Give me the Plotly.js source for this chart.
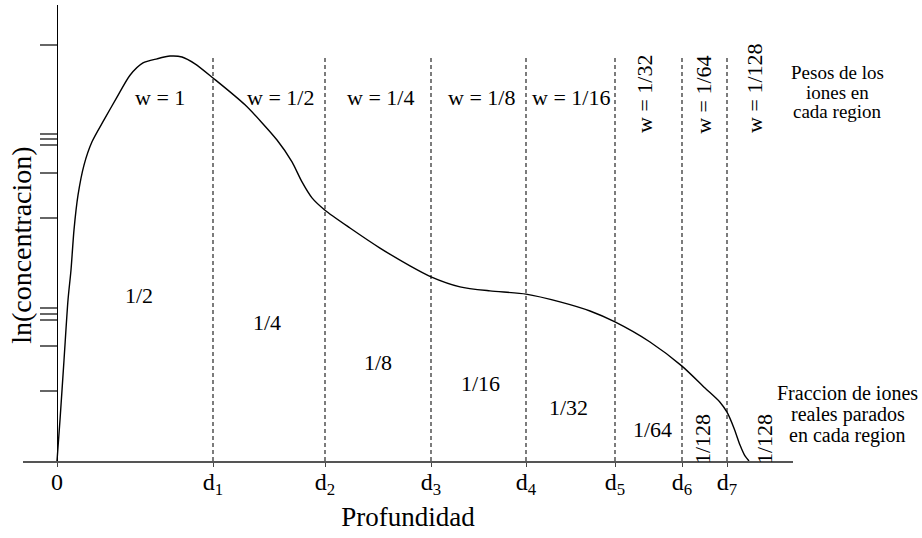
<!DOCTYPE html>
<html>
<head>
<meta charset="utf-8">
<script src="https://cdn.plot.ly/plotly-3.0.1.min.js"></script>
<style>html,body{margin:0;padding:0;background:#fff;}#chart{width:922px;height:538px;}</style>
</head>
<body>
<div id="chart"></div>
<script>
// Depth profile (depth units) and ln(concentration) values
const depth = [0, 0.03, 0.07, 0.11, 0.14, 0.17, 0.21, 0.27, 0.35, 0.47, 0.60, 0.73, 0.86, 1.00, 1.13, 1.25, 1.38, 1.56, 1.88, 2.20, 2.35, 2.45, 2.55, 2.68, 2.93, 3.23, 3.53, 3.74, 4.03, 4.33, 4.69, 5.03, 5.33, 5.58, 5.93, 6.25, 6.48, 6.63, 6.70, 6.77, 6.83, 6.88, 6.92];
const lnConc = [0, 0.90, 2.21, 3.53, 4.19, 5.07, 5.83, 6.49, 7.00, 7.48, 7.98, 8.46, 8.73, 8.82, 8.88, 8.86, 8.71, 8.40, 7.81, 7.04, 6.56, 6.12, 5.77, 5.50, 5.11, 4.67, 4.28, 4.04, 3.82, 3.73, 3.66, 3.49, 3.29, 3.05, 2.61, 2.08, 1.60, 1.29, 1.07, 0.72, 0.35, 0.11, 0];

// Region boundaries d1..d7
const regionBounds = [1.56, 2.68, 3.74, 4.69, 5.58, 6.25, 6.70];
const boundaryTop = 8.88;
const xTickVals = [0, 1.56, 2.68, 3.74, 4.69, 5.58, 6.25, 6.70];
const xTickText = ['0', 'd<sub>1</sub>', 'd<sub>2</sub>', 'd<sub>3</sub>', 'd<sub>4</sub>', 'd<sub>5</sub>', 'd<sub>6</sub>', 'd<sub>7</sub>'];
const yTickVals = [9.12, 7.17, 7.06, 6.93, 6.32, 5.33, 3.36, 3.22, 3.09, 2.52, 1.54];

// Region weights (top) and stopped-ion fractions (bottom)
const weightLabels = ['w = 1', 'w = 1/2', 'w = 1/4', 'w = 1/8', 'w = 1/16', 'w = 1/32', 'w = 1/64', 'w = 1/128'];
const weightX = [1.03, 2.23, 3.23, 4.24, 5.14, 5.88, 6.47, 6.98];
const weightY = [7.98, 7.98, 7.98, 7.98, 7.98, 8.05, 8.03, 8.16];
const fractionLabels = ['1/2', '1/4', '1/8', '1/16', '1/32', '1/64', '1/128', '1/128'];
const fractionX = [0.82, 2.10, 3.21, 4.23, 5.11, 5.95, 6.45, 7.07];
const fractionY = [3.64, 3.03, 2.17, 1.71, 1.18, 0.70, 0.48, 0.48];

const weightNote = ['Pesos de los', 'iones en', 'cada region'];
const weightNoteX = 1.0584;
const weightNoteY = [0.852, 0.809, 0.766];
const fractionNote = ['Fraccion de iones', 'reales parados', 'en cada region'];
const fractionNoteX = 1.0714;
const fractionNoteY = [0.149, 0.103, 0.057];

const FONT = 'Liberation Serif, Times New Roman, serif';

const bx = [], by = [];
regionBounds.forEach(d => { bx.push(d, d, null); by.push(0, boundaryTop, null); });

const traces = [
  {x: bx, y: by, mode: 'lines', line: {color: '#111', width: 1.1, dash: '4px,3px'}, hoverinfo: 'skip', showlegend: false},
  {x: depth, y: lnConc, mode: 'lines', line: {color: '#000', width: 1.4, shape: 'spline', smoothing: 0.7}, showlegend: false}
];

const ann = [];
weightLabels.forEach((t, i) => ann.push({x: weightX[i], y: weightY[i], text: t, showarrow: false,
  textangle: i >= 5 ? -90 : 0, font: {family: FONT, size: 22, color: '#000'}, xanchor: 'center', yanchor: 'middle'}));
fractionLabels.forEach((t, i) => ann.push({x: fractionX[i], y: fractionY[i], text: t, showarrow: false,
  textangle: i >= 6 ? -90 : 0, font: {family: FONT, size: 22, color: '#000'}, xanchor: 'center', yanchor: 'middle'}));
weightNote.forEach((t, i) => ann.push({xref: 'paper', yref: 'paper', x: weightNoteX, y: weightNoteY[i], text: t, showarrow: false,
  font: {family: FONT, size: 19, color: '#000'}, xanchor: 'center', yanchor: 'middle'}));
fractionNote.forEach((t, i) => ann.push({xref: 'paper', yref: 'paper', x: fractionNoteX, y: fractionNoteY[i], text: t, showarrow: false,
  font: {family: FONT, size: 20, color: '#000'}, xanchor: 'center', yanchor: 'middle'}));
// y-axis title
ann.push({xref: 'paper', yref: 'paper', x: -0.0013, y: 0.474, text: 'ln(concentracion)', showarrow: false,
  textangle: -90, font: {family: FONT, size: 28, color: '#000'}, xanchor: 'center', yanchor: 'middle'});

const layout = {
  width: 922, height: 538,
  margin: {l: 23, r: 129, t: 5, b: 77},
  paper_bgcolor: '#fff', plot_bgcolor: '#fff',
  showlegend: false,
  font: {family: FONT, color: '#000'},
  xaxis: {
    range: [-0.34, 7.36], showgrid: false, zeroline: false,
    showline: true, linecolor: '#555', linewidth: 1.5,
    ticks: 'outside', ticklen: 4, tickcolor: '#444', tickwidth: 1,
    tickvals: xTickVals, ticktext: xTickText, ticklabelstandoff: -5,
    tickfont: {family: FONT, size: 24, color: '#000'},
    title: {text: 'Profundidad', font: {family: FONT, size: 27, color: '#000'}, standoff: 9}
  },
  yaxis: {
    range: [0, 10], anchor: 'free', position: 0.04416,
    showgrid: false, zeroline: false,
    showline: true, linecolor: '#000', linewidth: 1,
    ticks: 'outside', ticklen: 17, tickcolor: '#666', tickwidth: 1.5,
    tickvals: yTickVals, showticklabels: false
  },
  annotations: ann
};

Plotly.newPlot('chart', traces, layout, {displayModeBar: false, staticPlot: true});
</script>
</body>
</html>
